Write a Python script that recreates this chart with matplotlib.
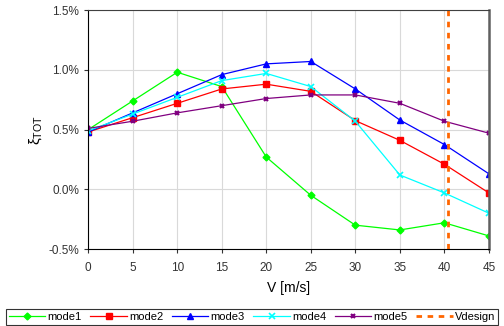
import numpy as np
import matplotlib
matplotlib.use('Agg')
import matplotlib.pyplot as plt
from matplotlib.ticker import FuncFormatter

V = [0, 5, 10, 15, 20, 25, 30, 35, 40, 45]
mode1 = [0.50, 0.74, 0.98, 0.86, 0.27, -0.05, -0.30, -0.34, -0.28, -0.39]
mode2 = [0.48, 0.60, 0.72, 0.84, 0.88, 0.82, 0.575, 0.41, 0.21, -0.03]
mode3 = [0.48, 0.64, 0.80, 0.96, 1.05, 1.07, 0.84, 0.58, 0.375, 0.13]
mode4 = [0.49, 0.63, 0.77, 0.91, 0.97, 0.86, 0.57, 0.12, -0.03, -0.20]
mode5 = [0.51, 0.57, 0.64, 0.70, 0.76, 0.79, 0.79, 0.72, 0.57, 0.47]
Vdesign = 40.4

plt.rcParams['font.family'] = ['Liberation Sans', 'DejaVu Sans']

fig = plt.figure(figsize=(5.04, 3.26), dpi=100)
ax = fig.add_axes([0.175, 0.236, 0.795, 0.733])

ax.plot(V, mode1, color='#00ff00', lw=0.9, marker='D', ms=3.5, label='mode1')
ax.plot(V, mode2, color='#ff0000', lw=0.9, marker='s', ms=4.5, label='mode2')
ax.plot(V, mode3, color='#0000ff', lw=0.9, marker='^', ms=5, label='mode3')
ax.plot(V, mode4, color='#00ffff', lw=0.9, marker='x', ms=4, mew=1.2, label='mode4')
ax.plot(V, mode5, color='#800080', lw=0.9, marker='x', ms=3.5, mew=1.5, label='mode5')
ax.axvline(Vdesign, color='#ff6600', lw=2, ls=(0, (2, 2)), label='Vdesign')

ax.set_xlim(0, 45)
ax.set_ylim(-0.5, 1.5)
ax.set_xticks(np.arange(0, 46, 5))
ax.set_yticks([-0.5, 0.0, 0.5, 1.0, 1.5])
ax.yaxis.set_major_formatter(FuncFormatter(lambda v, p: '%.1f%%' % v))
ax.grid(True, color='#d9d9d9', lw=0.8)
ax.set_axisbelow(True)
ax.tick_params(labelsize=8.5, length=3, direction='out', colors='#333333')
ax.tick_params(axis='x', pad=6)
ax.spines['left'].set_color('black')
ax.spines['bottom'].set_color('black')
ax.spines['top'].set_color('#404040')
ax.spines['right'].set_color('#606060')
ax.spines['right'].set_linewidth(1.8)

ax.set_xlabel('V [m/s]', fontsize=10, labelpad=5)
ax.set_ylabel(r'$\mathregular{\xi_{TOT}}$', fontsize=11, labelpad=3)

leg = fig.legend(loc='lower center', bbox_to_anchor=(0.5, 0.0), ncol=6, fontsize=8,
                 frameon=True, fancybox=False, edgecolor='black', handlelength=3.3,
                 columnspacing=0.75, handletextpad=0.2, borderpad=0.25, borderaxespad=0.1)
leg.get_frame().set_linewidth(0.8)

fig.savefig('out.png', dpi=100)
